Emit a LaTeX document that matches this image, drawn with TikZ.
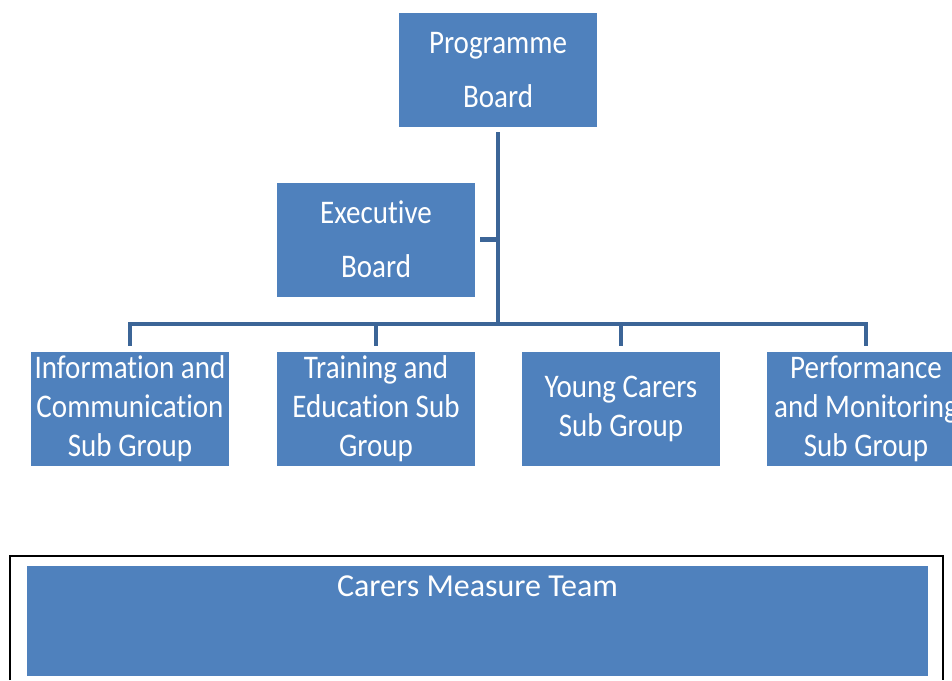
\documentclass[tikz,border=0pt]{standalone}
\usepackage{fontspec}
\setmainfont[Ligatures=NoCommon]{Carlito}
\newfontfamily\boxfont[FakeStretch=0.88, Ligatures=NoCommon]{Carlito}
\usetikzlibrary{positioning}

\definecolor{boxblue}{HTML}{4F81BD}
\definecolor{lineblue}{HTML}{3C6597}

\tikzset{
  unitbox/.style={fill=boxblue, text=white, inner sep=0pt, align=center,
    minimum width=198pt, minimum height=114pt},
  board/.style={unitbox, font=\boxfont\fontsize{33}{53.5}\selectfont},
  subgroup/.style={unitbox, font=\boxfont\fontsize{33}{39}\selectfont},
  link/.style={draw=lineblue, line width=4.5pt}
}

\begin{document}
\begin{tikzpicture}[x=1pt, y=-1pt]
    % Page size, in pixels of the reference
    \useasboundingbox (0,0) rectangle (952,680);

    \def\busy{324} % height of the horizontal bus
    \def\gap{6pt} % space between connector and box

    % Boards
    \node[board] (prog) at (498,70) {Programme\\Board};
    \node[board] (exec) at (376,239.5) {Executive\\Board};

    % Sub groups
    \node[subgroup] (info) at (130,409) {Information and\\Communication\\Sub Group};
    \node[subgroup] (train) at (376,409) {Training and\\Education Sub\\Group};
    \node[subgroup] (young) at (621,409) {Young Carers\\Sub Group};
    \node[subgroup] (perf) at (866,409) {Performance\\and Monitoring\\Sub Group};

    % Bus coordinates
    \coordinate (busl) at (130,\busy);
    \coordinate (busr) at (866,\busy);

    % Connectors
    \draw[link, shorten <=5pt] (prog.south) -- (prog.south |- busl);
    \draw[link, shorten <=5pt] (exec.east) -- (exec.east -| prog.south);
    \draw[link, shorten <=\gap, shorten >=\gap] (info.north) -- (info.north |- busl)
        -- (perf.north |- busr) -- (perf.north);
    \draw[link, shorten >=\gap] (train.north |- busl) -- (train.north);
    \draw[link, shorten >=\gap] (young.north |- busl) -- (young.north);

    % Carers Measure Team frame and box
    \draw[line width=2pt] (10,680) -- (10,556) -- (943,556) -- (943,680);
    \node[fill=boxblue, inner sep=0pt, minimum width=901pt, minimum height=110pt] (team) at (477.5,621) {};
    \node[anchor=base, text=white, font=\fontsize{32}{38}\selectfont, inner sep=0pt] (teamlabel)
        at ([yshift=-31pt]team.north) {Carers Measure Team};

\end{tikzpicture}
\end{document}
